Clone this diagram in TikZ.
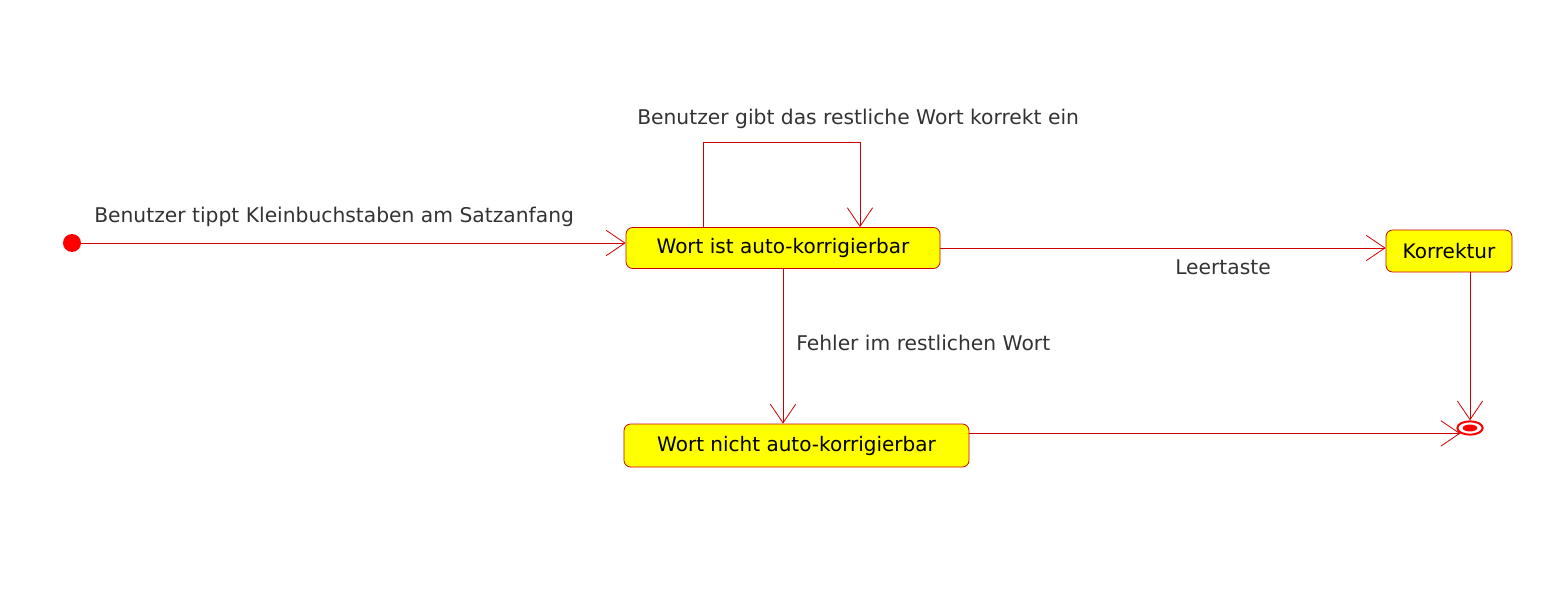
\documentclass[tikz,border=0pt]{standalone}
\usepackage{fontspec}
\setmainfont{DejaVu Sans}
\usetikzlibrary{arrows.meta,shapes.geometric}
\definecolor{umlred}{HTML}{CC0000}
\definecolor{umlyellow}{HTML}{FFFF00}
\definecolor{startred}{HTML}{FF0000}
\definecolor{labelgray}{HTML}{333333}
\tikzset{
  px/.style={x=0.75pt,y=-0.75pt},
  state/.style={draw=umlred,fill=umlyellow,rounded corners=5pt,line width=0.6pt,
    font=\fontsize{15}{18}\selectfont,text=black,inner sep=0pt},
  lbl/.style={font=\fontsize{15.2}{18}\selectfont,text=labelgray,inner sep=0pt,anchor=west},
  arr/.style={draw=umlred,line width=0.6pt,-{Straight Barb[length=14pt,width=19pt,line width=0.6pt]}},
  startstate/.style={circle,fill=startred,inner sep=0pt,minimum size=13.5pt},
  endstate/.style={ellipse,draw=startred,line width=1.5pt,minimum width=19pt,minimum height=10pt,inner sep=0pt}
}
\begin{document}
\begin{tikzpicture}[px]
\useasboundingbox[fill=white] (0,0) rectangle (1561,610);
\node[startstate] (start) at (72,243) {};
\node[state,minimum width=235.5pt,minimum height=30.75pt] (n1) at (783,248) {Wort ist auto-korrigierbar};
\node[state,minimum width=94.5pt,minimum height=31.5pt] (kor) at (1449,251) {Korrektur};
\node[state,minimum width=258.75pt,minimum height=32.25pt] (n2) at (796.5,445.5) {Wort nicht auto-korrigierbar};
\node[endstate] (end) at (1470,428) {};
\fill[startred] (end.center) ellipse [x radius=5.5pt,y radius=2.6pt];
\node[lbl] (l1) at (94,217) {Benutzer tippt Kleinbuchstaben am Satzanfang};
\node[lbl] (l2) at (637,119) {Benutzer gibt das restliche Wort korrekt ein};
\node[lbl] (l3) at (1175,267) {Leertaste};
\node[lbl] (l4) at (796,343) {Fehler im restlichen Wort};
\coordinate (c1) at (703,142);
\coordinate (c2) at (860,142);
\draw[arr] (start) -- (start -| n1.west);
\draw[arr] (c1 |- n1.north) -- (c1) -- (c2) -- (c2 |- n1.north);
\draw[arr] (n1.east) -- (n1.east -| kor.west);
\draw[arr] (n1.south) -- (n1.south |- n2.north);
\draw[arr] (end.north |- kor.south) -- (end.north);
\draw[arr] (n2.east |- end.south west) -- (end.south west);
\end{tikzpicture}
\end{document}
